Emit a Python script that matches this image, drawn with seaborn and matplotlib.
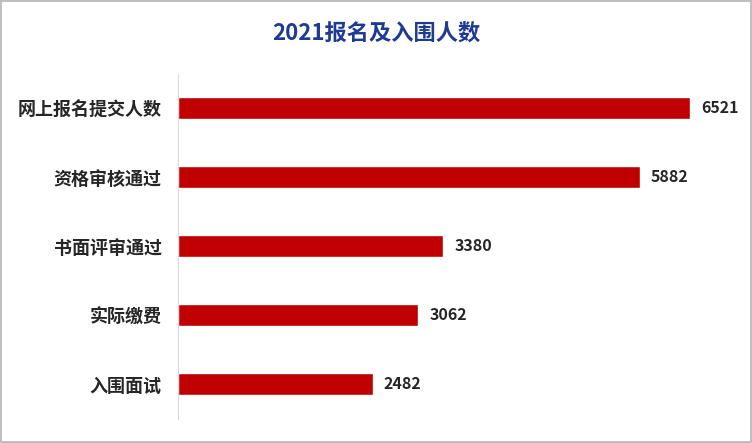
import matplotlib
matplotlib.use('Agg')
import matplotlib.pyplot as plt
import seaborn as sns
import pandas as pd

categories = ['网上报名提交人数', '资格审核通过', '书面评审通过', '实际缴费', '入围面试']
values = [6521, 5882, 3380, 3062, 2482]

sns.set_style('white')
plt.rcParams['font.family'] = ['Noto Sans CJK SC', 'DejaVu Sans']

df = pd.DataFrame({'cat': categories, 'val': values})

fig = plt.figure(figsize=(7.52, 4.43), dpi=100)
fig.patch.set_edgecolor('#BFBFBF')
fig.patch.set_linewidth(1.5)
ax = fig.add_axes([0.237, 0.055, 0.72, 0.779])
sns.barplot(data=df, x='val', y='cat', color='#C00000', width=0.32, ax=ax, saturation=1)
ax.set_xlim(0, 6900)
ax.set_xlabel('')
ax.set_ylabel('')
ax.set_xticks([])
for s in ['top', 'right', 'bottom']:
    ax.spines[s].set_visible(False)
ax.spines['left'].set_color('#D9D9D9')
ax.tick_params(axis='y', length=0, pad=12)
for lbl in ax.get_yticklabels():
    lbl.set_fontsize(13)
    lbl.set_fontweight('bold')
for i, v in enumerate(values):
    ax.text(v + 140, i, str(v), va='center', ha='left', fontsize=11.5, fontweight='bold')
fig.text(0.5, 0.925, '2021报名及入围人数', ha='center', va='center',
         fontsize=16, fontweight='bold', color='#1F3A93')
fig.savefig('out.png', dpi=100, edgecolor=fig.get_edgecolor())
